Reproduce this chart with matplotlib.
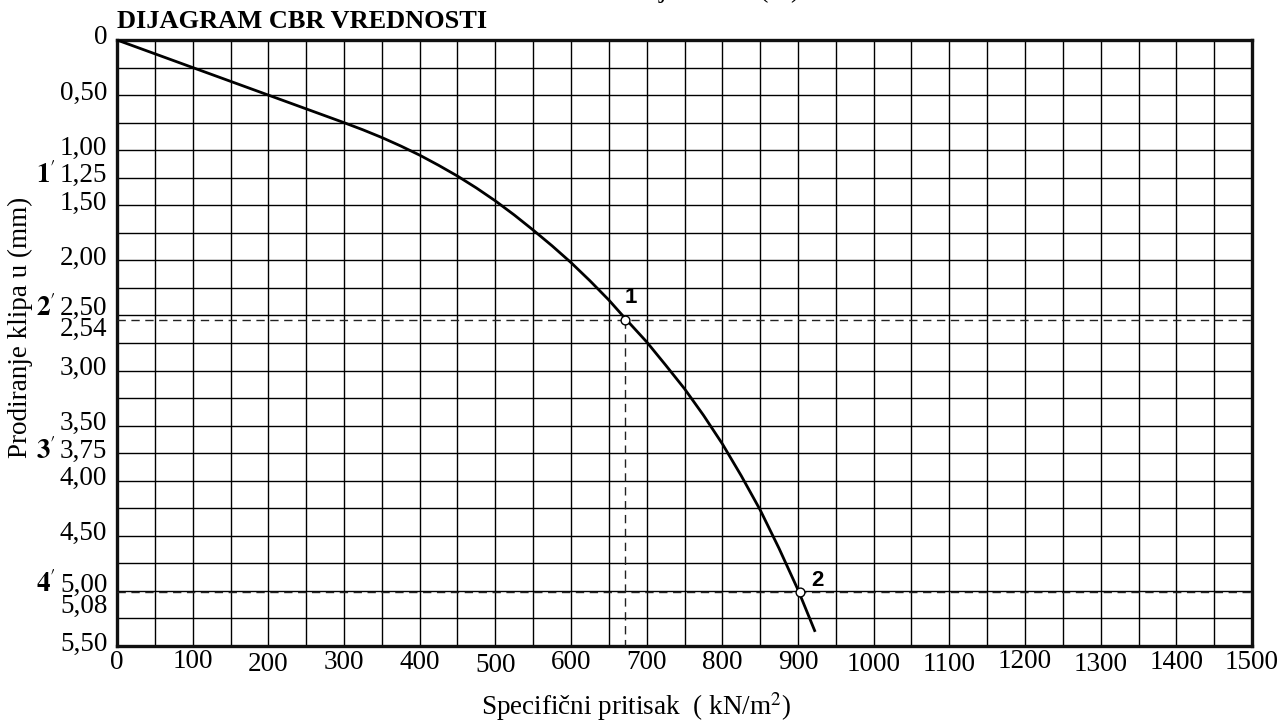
import numpy as np
import matplotlib
matplotlib.use("Agg")
import matplotlib.pyplot as plt
from matplotlib.transforms import blended_transform_factory

plt.rcParams['font.family'] = ['Liberation Serif', 'DejaVu Serif']
plt.rcParams['mathtext.fontset'] = 'stix'

# ---------- data ------------------------------------------------------------
# CBR curve: pressure (kN/m2) vs. piston penetration (mm)
pressure = [0, 100, 200, 300, 325, 350, 375, 400, 425, 450, 475, 500, 525,
            550, 575, 600, 625, 650, 672, 700, 725, 750, 775, 800, 825,
            850, 875, 900, 922]
penetration = [0.0, 0.25, 0.50, 0.75, 0.815, 0.885, 0.962, 1.045, 1.137,
               1.235, 1.343, 1.46, 1.588, 1.725, 1.868, 2.02, 2.185, 2.36,
               2.53, 2.74, 2.95, 3.165, 3.405, 3.665, 3.955, 4.265, 4.615,
               4.99, 5.36]

# marked points 1 and 2
pt_names = ['1', '2']
pt_pressure = [672, 902]
pt_penetration = [2.54, 5.01]

x_ticks = list(range(0, 1501, 100))
x_tick_labels = [str(v) for v in x_ticks]

y_ticks = [0, 0.50, 1.00, 1.25, 1.50, 2.00, 2.50, 2.54, 3.00, 3.50, 3.75,
           4.00, 4.50, 5.00, 5.08, 5.50]
y_tick_labels = ['0', '0,50', '1,00', '1,25', '1,50', '2,00', '2,50', '2,54',
                 '3,00', '3,50', '3,75', '4,00', '4,50', '5,00', '5,08', '5,50']
# standard-test marks next to some ticks
prime_ticks = [1.25, 2.50, 3.75, 5.00]
prime_labels = [r"$\mathbf{1}'$", r"$\mathbf{2}'$", r"$\mathbf{3}'$",
                r"$\mathbf{4}'$"]

# small vertical nudges (pixels, + = down) so crowded labels don't collide
y_nudge = {2.50: -7, 2.54: 10, 5.00: -6, 5.08: 7}
x_nudge = [0, -1, 2, 0, 0, 3, 0, 0, 0, 0, 2, 2, -1, 2, 0, 0]

# ---------- figure ----------------------------------------------------------
W, H = 1282, 722
FS = 19.5
fig = plt.figure(figsize=(W / 100, H / 100), dpi=100)
ax = fig.add_axes([117 / W, 1 - 646 / H, (1252 - 117) / W, (646 - 40) / H])

ax.set_xlim(0, 1500)
ax.set_ylim(5.5, 0)

# grid: every 50 kN/m2 and every 0.25 mm
ax.set_xticks(np.arange(0, 1501, 50))
ax.set_yticks(np.arange(0, 5.51, 0.25))
ax.grid(True, color='black', lw=1.0)
ax.tick_params(length=0, labelbottom=False, labelleft=False)
for s in ax.spines.values():
    s.set_linewidth(2.4)
    s.set_color('#111111')

ax.plot(pressure, penetration, color='black', lw=2.0, zorder=4,
        solid_joinstyle='round')

# dashed guides
dash = dict(color='#222222', lw=1.0, ls=(0, (6, 4)), zorder=3)
ax.axhline(pt_penetration[0], **dash)
ax.axhline(pt_penetration[1], **dash)
ax.plot([pt_pressure[0], pt_pressure[0]], [pt_penetration[0], 5.5], **dash)

ax.scatter(pt_pressure, pt_penetration, s=40, facecolor='white',
           edgecolor='black', linewidth=1.0, zorder=6)
label_off = [(4, 16), (13, 8)]
for name, px, py, off in zip(pt_names, pt_pressure, pt_penetration, label_off):
    ax.annotate(name, (px, py), xytext=off, textcoords='offset points',
                fontsize=16, fontweight='bold', family='Liberation Sans',
                ha='center', va='center')

# tick labels
ylab_tr = blended_transform_factory(ax.transAxes, ax.transData)
for v, lbl in zip(y_ticks, y_tick_labels):
    dy = y_nudge.get(v, -2) * 0.72
    ax.annotate(lbl, (0, v), xycoords=ylab_tr, xytext=(-7, -dy),
                textcoords='offset points', ha='right', va='center',
                fontsize=FS)
for v, lbl in zip(prime_ticks, prime_labels):
    dy = y_nudge.get(v, -2) * 0.72
    ax.annotate(lbl, (0, v), xycoords=ylab_tr, xytext=(-44, -dy),
                textcoords='offset points', ha='right', va='center',
                fontsize=FS)

xlab_tr = blended_transform_factory(ax.transData, ax.transAxes)
for v, lbl, dy in zip(x_ticks, x_tick_labels, x_nudge):
    ax.annotate(lbl, (v, 0), xycoords=xlab_tr, xytext=(0, -12 - dy * 0.72),
                textcoords='offset points', ha='center', va='center',
                fontsize=FS)

# titles and axis labels
fig.text(117 / W, 1 - 21 / H, 'DIJAGRAM CBR VREDNOSTI', fontsize=19,
         fontweight='bold', ha='left', va='center')
fig.text(585 / W, 1 + 3 / H, 'Sadržaj vode w (%)', fontsize=FS,
         ha='left', va='baseline')
fig.text(636 / W, 1 - 707 / H, r'Specifični pritisak  ( kN/m$^2$)',
         fontsize=FS, ha='center', va='center')
fig.text(20 / W, 1 - 327 / H, 'Prodiranje klipa u (mm)', fontsize=FS,
         rotation=90, ha='center', va='center')

fig.savefig('out.png', dpi=100)
